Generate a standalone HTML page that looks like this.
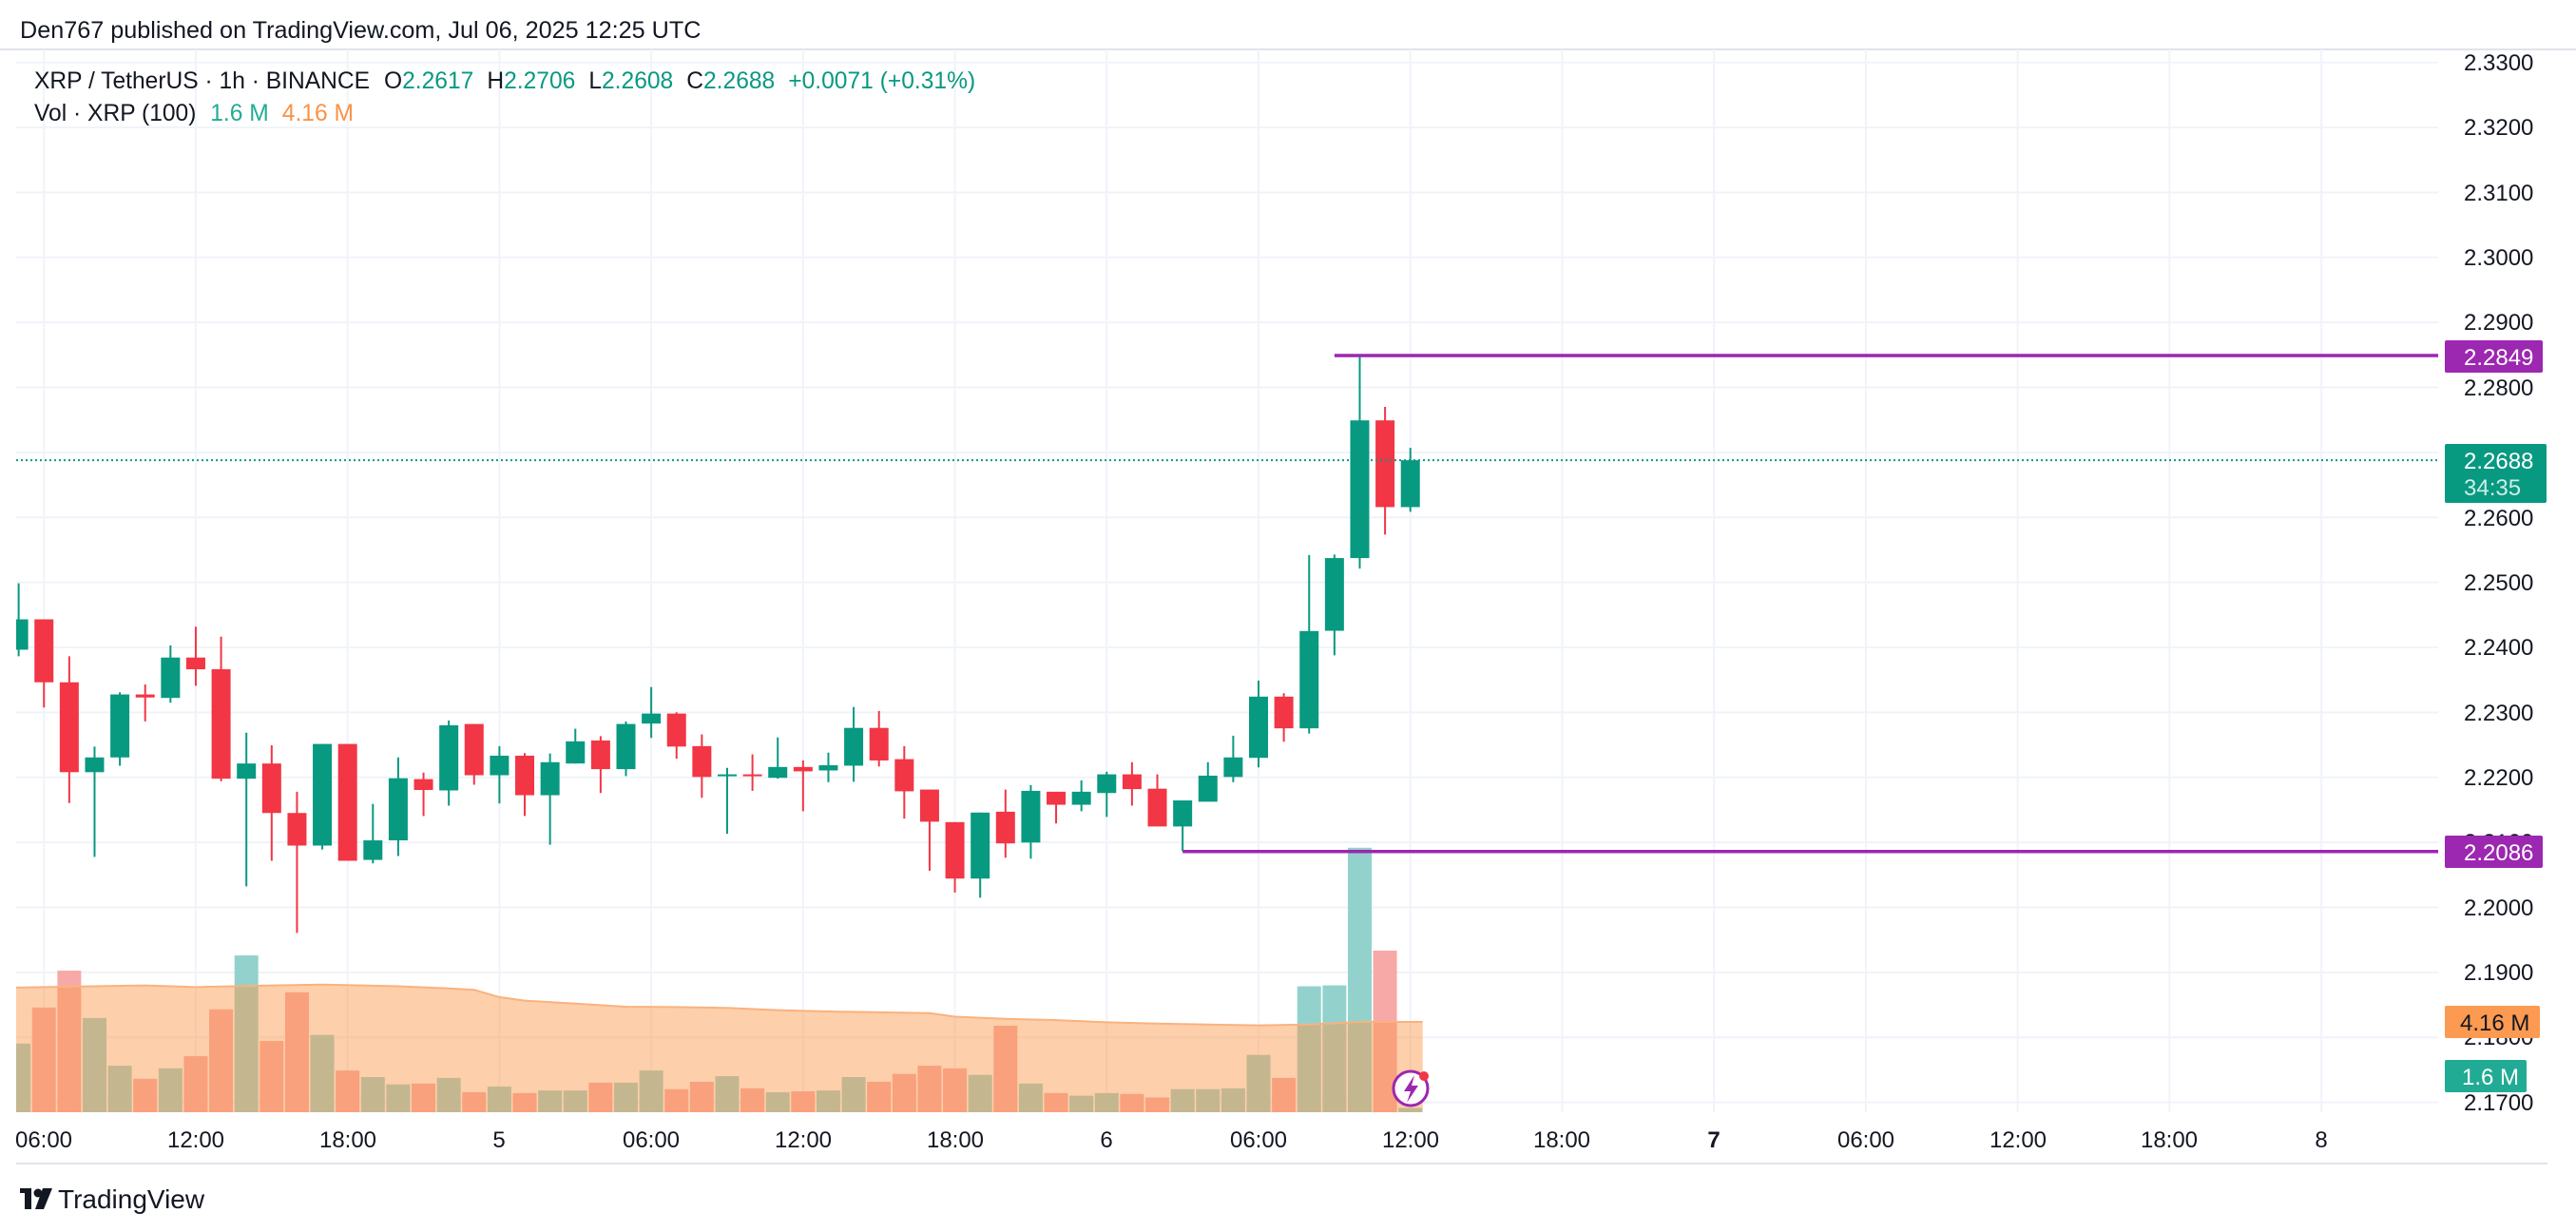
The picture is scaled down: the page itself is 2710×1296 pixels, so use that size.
<!DOCTYPE html>
<html><head><meta charset="utf-8"><style>
html,body{margin:0;padding:0;background:#fff;}
svg{display:block;font-family:"Liberation Sans",sans-serif;}
</style></head><body>
<svg id="s" width="2710" height="1296" viewBox="0 0 2710 1296" xmlns="http://www.w3.org/2000/svg">
<rect width="2710" height="1296" fill="#fff"/>
<g id="grid"></g>
<g id="vol"></g>
<g id="cand"></g>
<g id="over"></g>
<text x="21" y="40" font-size="25.2" fill="#131722">Den767 published on TradingView.com, Jul 06, 2025 12:25 UTC</text>
<text x="36" y="93" font-size="24.6" fill="#131722">XRP / TetherUS · 1h · BINANCE <tspan dx="8">O</tspan><tspan fill="#089981">2.2617</tspan><tspan dx="14">H</tspan><tspan fill="#089981">2.2706</tspan><tspan dx="14">L</tspan><tspan fill="#089981">2.2608</tspan><tspan dx="14">C</tspan><tspan fill="#089981">2.2688</tspan><tspan dx="14" fill="#089981">+0.0071 (+0.31%)</tspan></text>
<text x="36" y="127" font-size="24.6" fill="#131722">Vol · XRP (100) <tspan dx="8" fill="#22ab94">1.6 M</tspan><tspan dx="14" fill="#f7934a">4.16 M</tspan></text>
<g font-size="24" fill="#131722">
<text x="2592" y="74">2.3300</text><text x="2592" y="142">2.3200</text><text x="2592" y="211">2.3100</text>
<text x="2592" y="279">2.3000</text><text x="2592" y="347">2.2900</text><text x="2592" y="416">2.2800</text>
<text x="2592" y="553">2.2600</text><text x="2592" y="621">2.2500</text><text x="2592" y="689">2.2400</text>
<text x="2592" y="758">2.2300</text><text x="2592" y="826">2.2200</text><text x="2592" y="894">2.2100</text>
<text x="2592" y="963">2.2000</text><text x="2592" y="1031">2.1900</text><text x="2592" y="1099">2.1800</text>
<text x="2592" y="1168">2.1700</text>
</g>
<g font-size="24" fill="#131722" text-anchor="middle">
<text x="46" y="1207">06:00</text><text x="206" y="1207">12:00</text><text x="366" y="1207">18:00</text>
<text x="525" y="1207">5</text><text x="685" y="1207">06:00</text><text x="845" y="1207">12:00</text>
<text x="1005" y="1207">18:00</text><text x="1164" y="1207">6</text><text x="1324" y="1207">06:00</text>
<text x="1484" y="1207">12:00</text><text x="1643" y="1207">18:00</text><text x="1803" y="1207" font-weight="bold">7</text>
<text x="1963" y="1207">06:00</text><text x="2123" y="1207">12:00</text><text x="2282" y="1207">18:00</text>
<text x="2442" y="1207">8</text>
</g>
<rect x="2572" y="358" width="103" height="34" rx="2" fill="#9c27b0"/>
<text x="2592" y="384" font-size="24" fill="#fff">2.2849</text>
<rect x="2572" y="467" width="107" height="62" rx="2" fill="#089981"/>
<text x="2592" y="493" font-size="24" fill="#fff">2.2688</text>
<text x="2592" y="521" font-size="24" fill="#cdeee7">34:35</text>
<rect x="2572" y="879" width="103" height="34" rx="2" fill="#9c27b0"/>
<text x="2592" y="905" font-size="24" fill="#fff">2.2086</text>
<rect x="2572" y="1058" width="100" height="34" rx="2" fill="#fb9a50"/>
<text x="2588" y="1084" font-size="24" fill="#131722">4.16 M</text>
<rect x="2572" y="1115" width="86" height="34" rx="2" fill="#22ab94"/>
<text x="2590" y="1141" font-size="24" fill="#fff">1.6 M</text>
<g transform="translate(21,1248)">
<rect x="0" y="2" width="12" height="5" fill="#131722"/><rect x="5" y="2" width="7" height="22" fill="#131722"/>
<circle cx="19" cy="7" r="4.5" fill="#131722"/><path d="M24 2 L34 2 L25 24 L16 24 Z" fill="#131722"/>
<text x="40" y="23" font-size="28" fill="#131722">TradingView</text>
</g>
</svg>
<script>
const NS="http://www.w3.org/2000/svg";
function el(p,t,a){const e=document.createElementNS(NS,t);for(const k in a)e.setAttribute(k,a[k]);document.getElementById(p).appendChild(e);return e;}
const L=17,R=2565,T=52,B=1170;
const yp=p=>65.7+(2.33-p)*6837;
const xh=h=>525.4+(h-24)*26.62;
el("grid","line",{x1:0,y1:T,x2:2710,y2:T,stroke:"#e0e3eb","stroke-width":2});
el("grid","line",{x1:L,y1:1224,x2:2680,y2:1224,stroke:"#e0e3eb","stroke-width":2});
for(let i=0;i<=16;i++){const y=yp(2.17+i*0.01);el("grid","line",{x1:L,y1:y,x2:R,y2:y,stroke:"#f0f3fa","stroke-width":2});}
for(let h=6;h<=96;h+=6){const x=xh(h);el("grid","line",{x1:x,y1:T,x2:x,y2:B,stroke:"#f0f3fa","stroke-width":2});}
const z2=v=>580.7+v*0.4568, z3=v=>330+v*0.6165;
const C=[
["G",155,225,72,240],["R",155,300,155,358],["R",300,507,240,578],["G",473,507,448,702],
["G",328,473,323,492],["R",328,335,305,390],["G",243,336,215,347],["R",243,270,172,308],
["R",270,522,195,528],["G",487,522,416,770],["R",487,601,445,711],["R",601,676,552,877],
["G",442,676,442,685],["R",442,711,442,711],["G",664,709,580,717],["G",521,664,473,700],
["R",523,548,508,608],["G",399,549,388,584],["R",396,514,396,536],["G",469,514,447,579],
["R",469,560,463,608],["G",484,560,464,674],["G",436,487,407,487],["R",434,500,424,555],
["G",396,500,390,516],["G",372,395,311,428],["R",372,448,369,476],["R",447,518,420,566],
["G",512,516,497,649],["R",512,516,466,550],["G",495,520,427,522],["R",495,505,480,597],
["G",491,503,462,530],["G",405,492,357,529],["R",405,480,366,494],["R",477,551,447,614],
["R",547,621,547,734],["R",622,752,622,784],["G",600,752,600,796],["R",598,671,547,704],
["G",550,669,537,706],["R",552,582,552,625],["G",552,582,526,597],["G",512,555,506,610],
["R",512,546,484,584],["R",545,632,512,632],["G",572,632,572,689],["G",515,575,484,575],
["G",473,518,423,530],["G",333,474,296,496],["R",333,406,325,437],["G",182,406,7,418],
["G",417,541,411,583,3],["G",182,417,70,435,3],["R",182,330,159,377,3],["G",250,330,229,338,3]];
const V=[1132,1049,964,1073,1183,1213,1189,1161,1053,929,1126,1014,1112,1194,1209,1226,1224,1211,1244,1231,1246,1240,1240,1222,1222,1194,1237,1220,1207,1235,1244,1242,1240,1209,1220,1202,1183,1189,1204,1091,1224,1246,1252,1246,1248,1256,1237,1237,1235,1158,1211,1000,998,681,918,1280];
V.forEach((v,k)=>{const x=xh(5+k);const y=z2(v);let x0=Math.max(L,x-12.5);
el("vol","rect",{x:x0,y:y,width:x+12.5-x0,height:B-y,fill:C[k][0]=="G"?"#93d2cc":"#f7a9a7"});});
const M=[[0,1003],[5,998],[7,1002],[10,998],[12,996],[15,1000],[17,1005],[18,1008],[19,1025],[20,1033],[22,1040],[24,1047],[26,1048],[28,1050],[30,1055],[32,1058],[34,1060],[36,1062],[37,1070],[39,1075],[41,1078],[43,1083],[45,1086],[47,1088],[49,1090],[51,1088],[53,1082],[55,1082]];
let pts=[];M.forEach((m,i)=>{let x=i==0?L:xh(5+m[0]);if(i==M.length-1)x+=13;pts.push(x.toFixed(1)+","+z2(m[1]).toFixed(1));});
const dl="M"+pts.join(" L");
const d="M"+L+","+B+" L"+pts.join(" L")+" L"+(xh(60)+13)+","+B+" Z";
el("vol","path",{d:d,fill:"rgba(251,153,77,0.47)"});
el("vol","path",{d:dl,fill:"none",stroke:"#f9b27e","stroke-width":2});
C.forEach((c,k)=>{const f=c[5]==3?z3:z2;const x=xh(5+k);const col=c[0]=="G"?"#089981":"#f23645";
const wt=f(c[3]),wb=f(c[4]),bt=f(c[1]);let bb=f(c[2]);if(bb-bt<2)bb=bt+2;
el("cand","line",{x1:x,y1:wt,x2:x,y2:wb,stroke:col,"stroke-width":2});
const x0=Math.max(L,x-10);el("cand","rect",{x:x0,y:bt,width:x+10-x0,height:bb-bt,fill:col});});
el("over","line",{x1:L,y1:yp(2.2688),x2:R,y2:yp(2.2688),stroke:"#089981","stroke-width":2,"stroke-dasharray":"2 3"});
el("over","line",{x1:xh(57),y1:yp(2.2849),x2:R,y2:yp(2.2849),stroke:"#9c27b0","stroke-width":3.5});
el("over","line",{x1:xh(51),y1:yp(2.2086),x2:R,y2:yp(2.2086),stroke:"#9c27b0","stroke-width":3.5});
el("over","circle",{cx:1484,cy:1145,r:18,fill:"#fff",stroke:"#9c27b0","stroke-width":3});
el("over","path",{d:"M1488,1131 L1477,1148 L1484,1148 L1480,1160 L1492,1142 L1485,1142 Z",fill:"#9c27b0"});
el("over","circle",{cx:1498,cy:1132,r:5,fill:"#f23645"});
</script>
</body></html>
